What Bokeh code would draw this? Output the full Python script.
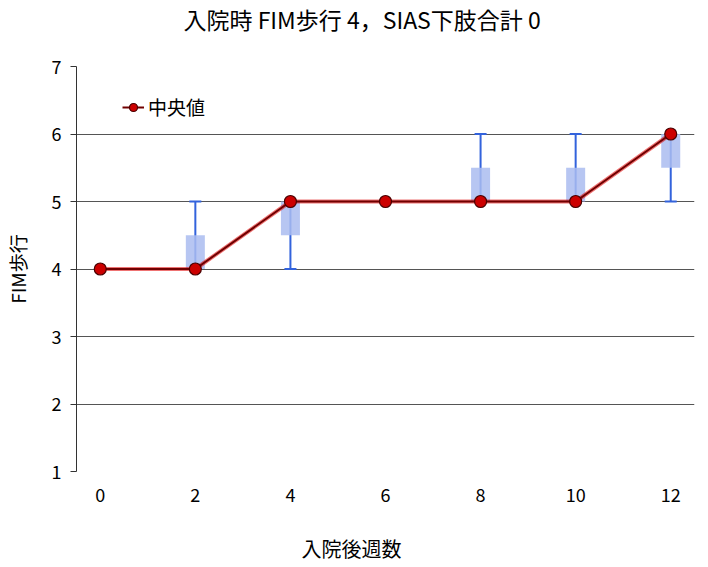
from bokeh.plotting import figure
from bokeh.models import ColumnDataSource, Whisker, TeeHead, Title, Legend, LegendItem, Range1d, FixedTicker
from bokeh.embed import file_html
from bokeh.resources import INLINE

weeks = [0, 2, 4, 6, 8, 10, 12]
median = [4, 4, 5, 5, 5, 5, 6]
q1 = [4, 4, 4.5, 5, 5, 5, 5.5]
q3 = [4, 4.5, 5, 5, 5.5, 5.5, 6]
lower = [4, 4, 4, 5, 5, 5, 5]
upper = [4, 5, 5, 5, 6, 6, 6]
y_ticks = [1, 2, 3, 4, 5, 6, 7]
x_ticks = [0, 2, 4, 6, 8, 10, 12]

title_text = "入院時 FIM歩行 4，SIAS下肢合計 0"
x_label = "入院後週数"
y_label = "FIM歩行"
legend_label = "中央値"

FONT = "Noto Sans CJK JP"

src = ColumnDataSource(dict(x=weeks, med=median, q1=q1, q3=q3, lo=lower, hi=upper))

p = figure(width=700, height=564, output_backend="svg", toolbar_location=None,
           x_range=Range1d(-0.5, 12.5), y_range=Range1d(1, 7),
           min_border_left=60, min_border_right=6, min_border_top=66, min_border_bottom=93)
p.outline_line_color = None
p.background_fill_color = "white"

# boxes
p.vbar(x="x", width=0.4, bottom="q1", top="q3", source=src,
       fill_color="#aabcf0", fill_alpha=0.85, line_color=None)

# whiskers
wh = Whisker(base="x", lower="lo", upper="hi", source=src,
             line_color="#3363dc", line_width=2,
             upper_head=TeeHead(size=12, line_color="#3363dc", line_width=2),
             lower_head=TeeHead(size=12, line_color="#3363dc", line_width=2))
p.add_layout(wh)

# median line
glow = p.line("x", "med", source=src, line_color="#e00000", line_width=4, line_alpha=0.55)
ln = p.line("x", "med", source=src, line_color="#700000", line_width=2)
pts = p.scatter("x", "med", source=src, size=12, fill_color="#cc0000", line_color="#4a0000", line_width=1.2)

leg = Legend(items=[LegendItem(label=legend_label, renderers=[ln, pts])],
             location=(46, 351), border_line_color=None, background_fill_alpha=0,
             label_text_font=FONT, label_text_font_size="19px", label_text_color="black",
             label_standoff=4, glyph_width=22, padding=0, margin=0, spacing=0)
p.add_layout(leg)

# axes
p.xaxis.ticker = FixedTicker(ticks=x_ticks)
p.yaxis.ticker = FixedTicker(ticks=y_ticks)
p.xaxis.axis_line_color = None
p.xaxis.major_tick_line_color = None
p.xaxis.minor_tick_line_color = None
p.xaxis.major_label_standoff = 10
p.yaxis.axis_line_color = "#333333"
p.yaxis.major_tick_line_color = "#333333"
p.yaxis.major_tick_out = 6
p.yaxis.major_tick_in = 0
p.yaxis.minor_tick_line_color = None
p.yaxis.major_label_standoff = 9
for ax in (p.xaxis, p.yaxis):
    ax.major_label_text_font = FONT
    ax.major_label_text_font_size = "18px"
    ax.major_label_text_color = "black"
p.yaxis.axis_label = y_label
p.yaxis.axis_label_text_font = FONT
p.yaxis.axis_label_text_font_size = "19px"
p.yaxis.axis_label_text_font_style = "normal"
p.yaxis.axis_label_text_color = "black"
p.yaxis.axis_label_standoff = 18

p.xgrid.grid_line_color = None
p.ygrid.grid_line_color = "#555555"
p.ygrid.grid_line_width = 1

# title (spacer nearest the frame, then the title text)
p.add_layout(Title(text=" ", text_font_size="10px", standoff=17), "above")
p.add_layout(Title(text=title_text, align="left", offset=107, vertical_align="middle",
                   text_font=FONT, text_font_size="23px", text_font_style="normal",
                   text_color="black", standoff=0), "above")

# x-axis label (spacer below the axis, then the label)
p.add_layout(Title(text=" ", text_font_size="10px", standoff=15), "below")
p.add_layout(Title(text=x_label, align="left", offset=225, vertical_align="middle",
                   text_font=FONT, text_font_size="20px", text_font_style="normal",
                   text_color="black", standoff=0), "below")

open("out.html", "w").write(file_html(p, INLINE))
